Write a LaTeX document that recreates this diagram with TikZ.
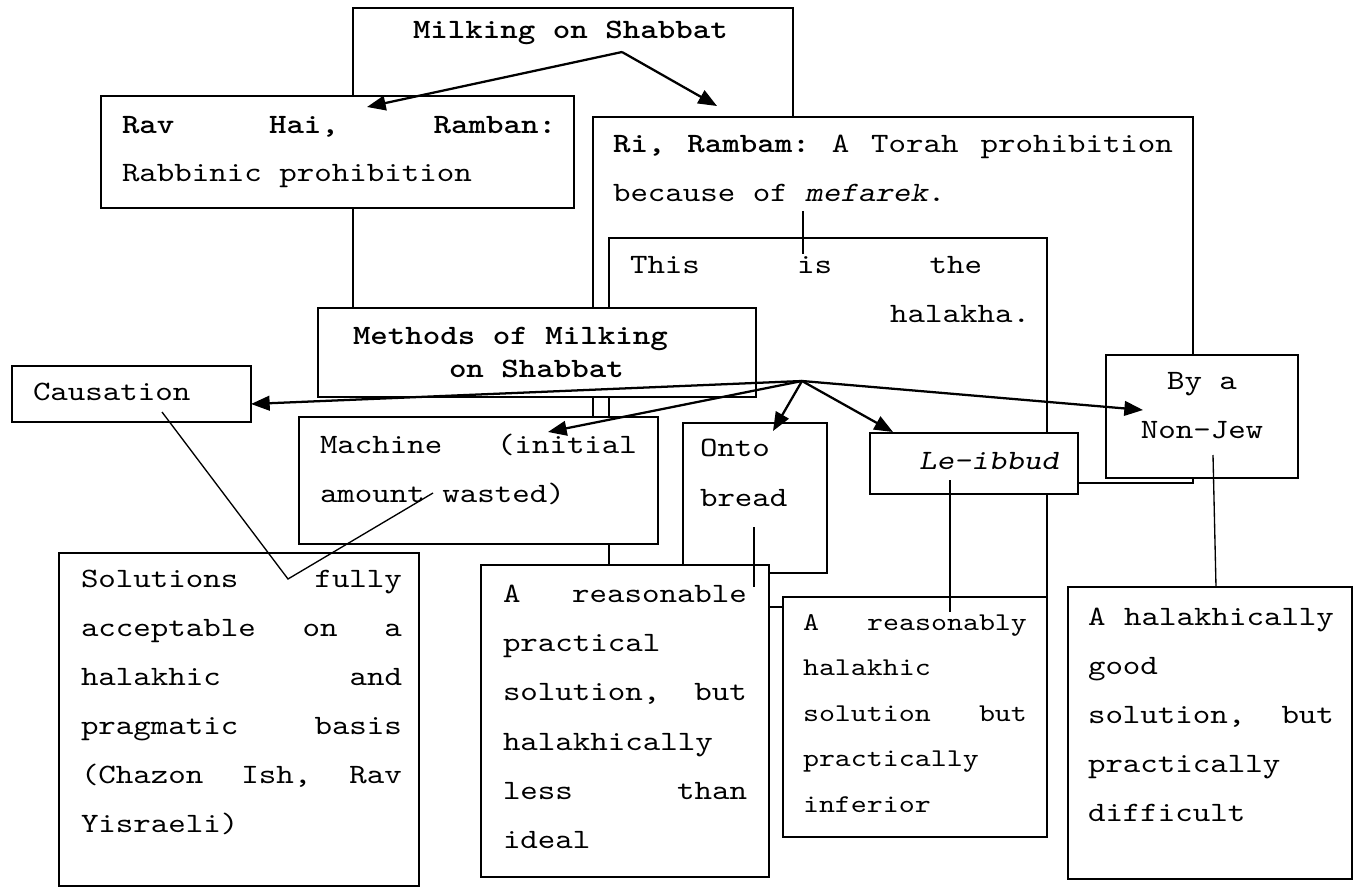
\documentclass[tikz,border=0pt]{standalone}
\usepackage{fontspec}
\setmainfont{lmmono10-regular.otf}[BoldFont=lmmonolt10-bold.otf, ItalicFont=lmmonoslant10-regular.otf, BoldItalicFont=lmmonolt10-boldoblique.otf, FakeStretch=1.19]
\usetikzlibrary{arrows.meta}
\newdimen\pxu \pxu=0.75pt
\newcommand\blk[4]{\vtop{\fontsize{#1}{#2}\selectfont\hsize=#3\relax\lineskiplimit=-\maxdimen\relax#4}}
\newcommand\Jl[1]{\hbox to\hsize{#1}}
\newcommand\Ln[1]{\hbox{#1}}
\newcommand\bx[5]{\node[box,minimum width={(#4-#2)*0.75pt},minimum height={(#5-#3)*0.75pt}] (#1) at (#2,#3) {};}
\begin{document}
\begin{tikzpicture}[x=0.75pt,y=-0.75pt,
  box/.style={draw,fill=white,line width=1.3pt,inner sep=0pt,outer sep=0pt,anchor=north west},
  txt/.style={anchor=base west,inner sep=0pt,outer sep=0pt},
  arr/.style={line width=1.7pt,-{Triangle[length=14pt,width=11pt]}},
  ln/.style={line width=1pt}]
\fill[white] (0,0) rectangle (1367,888);
\useasboundingbox (0,0) rectangle (1367,888);

\bx{top}{353}{8}{793}{360}
\node[txt] (top-t) at (413,39) {\blk{21pt}{36.75pt}{400\pxu}{\Ln{\textbf{Milking on Shabbat}}}};

\bx{ri}{593}{117}{1193}{483}
\node[txt] (ri-t) at (613,153) {\blk{21pt}{36.75pt}{560\pxu}{\Jl{\textbf{Ri,}\hfill\textbf{Rambam:}\hfill A\hfill Torah\hfill prohibition}\Ln{because of \textit{mefarek}.}}};

\bx{rav}{101}{96}{574}{208}
\node[txt] (rav-t) at (122,134) {\blk{21pt}{36pt}{434\pxu}{\Jl{\textbf{Rav}\hfill\textbf{Hai,}\hfill\textbf{Ramban:}}\Ln{Rabbinic prohibition}}};

\bx{hal}{609}{238}{1047}{607}
\node[txt] (hal-t) at (630,273) {\blk{21pt}{36.75pt}{400\pxu}{\hbox to 352\pxu{This\hfill is\hfill the}\Jl{\hfill halakha.}}};

\bx{meth}{318}{308}{756}{397}
\node[txt] (meth-t) at (353,344) {\blk{21pt}{24.75pt}{400\pxu}{\Ln{\textbf{Methods of Milking}}\Ln{\hskip 96\pxu\textbf{on Shabbat}}}};

\bx{caus}{12}{366}{251}{422}
\node[txt] (caus-t) at (33,400) {\blk{21pt}{36.75pt}{200\pxu}{\Ln{Causation}}};

\bx{mach}{299}{417}{658}{544}
\node[txt] (mach-t) at (320,453) {\blk{21pt}{36.75pt}{317\pxu}{\Jl{Machine\hfill(initial}\Ln{amount wasted)}}};

\bx{onto}{683}{423}{827}{573}
\node[txt] (onto-t) at (700,456) {\blk{21pt}{37.5pt}{120\pxu}{\Ln{Onto}\Ln{bread}}};

\bx{leib}{870}{433}{1078}{494}
\node[txt] (leib-t) at (919,469) {\blk{21pt}{36.75pt}{150\pxu}{\Ln{\textit{Le-ibbud}}}};

\bx{bya}{1106}{355}{1298}{478}
\node[txt] (bya-t) at (1120,389) {\blk{21pt}{36.75pt}{164\pxu}{\Jl{\hfil By a\hfil}\Jl{\hfil Non-Jew\hfil}}};

\bx{sol}{59}{553}{419}{886}
\node[txt] (sol-t) at (81,587) {\blk{21pt}{36.75pt}{321\pxu}{\Jl{Solutions\hfill fully}\Jl{acceptable\hfill on\hfill a}\Jl{halakhic\hfill and}\Jl{pragmatic\hfill basis}\Jl{(Chazon\hfill Ish,\hfill Rav}\Ln{Yisraeli)}}};

\bx{rsn}{481}{565}{769}{877}
\node[txt] (rsn-t) at (503,602) {\blk{21pt}{37pt}{244\pxu}{\Jl{A\hfill reasonable}\Ln{practical}\Jl{solution,\hfill but}\Ln{halakhically}\Jl{less\hfill than}\Ln{ideal}}};

\bx{rsy}{783}{597}{1047}{837}
\node[txt] (rsy-t) at (803,630) {\blk{19.2pt}{34.2pt}{224\pxu}{\Jl{A\hfill reasonably}\Ln{halakhic}\Jl{solution\hfill but}\Ln{practically}\Ln{inferior}}};

\bx{hlk}{1068}{587}{1352}{879}
\node[txt] (hlk-t) at (1088,625) {\blk{21pt}{36.75pt}{246\pxu}{\Jl{A\hfill halakhically}\Ln{good}\Jl{solution,\hfill but}\Ln{practically}\Ln{difficult}}};

% connector end points
\coordinate (srcA) at (622,52);
\coordinate (tipRav) at (367,107);
\coordinate (tipRi) at (717,106);
\coordinate (srcB) at (802,381);
\coordinate (tipCaus) at (251,404);
\coordinate (tipMach) at (548,432);
\coordinate (tipOnto) at (773,431);
\coordinate (tipLeib) at (893,432);
\coordinate (tipBya) at (1143,410);
\coordinate (mefA) at (803,211);
\coordinate (mefB) at (803,254);
\coordinate (causP) at (162,412);
\coordinate (solP) at (288,579);
\coordinate (machP) at (433,493);
\coordinate (ontoP) at (754,527);
\coordinate (rsnP) at (754,587);
\coordinate (leibP) at (950,480);
\coordinate (rsyP) at (950,612);
\coordinate (byaP) at (1213,455);
\coordinate (hlkP) at (1216,587);

\draw[arr] (srcA) -- (tipRav);
\draw[arr] (srcA) -- (tipRi);
\draw[arr] (srcB) -- (tipCaus);
\draw[arr] (srcB) -- (tipMach);
\draw[arr] (srcB) -- (tipOnto);
\draw[arr] (srcB) -- (tipLeib);
\draw[arr] (srcB) -- (tipBya);
\draw[ln] (mefA) -- (mefB);
\draw[ln] (causP) -- (solP) -- (machP);
\draw[ln] (ontoP) -- (rsnP);
\draw[ln] (leibP) -- (rsyP);
\draw[ln] (byaP) -- (hlkP);
\end{tikzpicture}
\end{document}
